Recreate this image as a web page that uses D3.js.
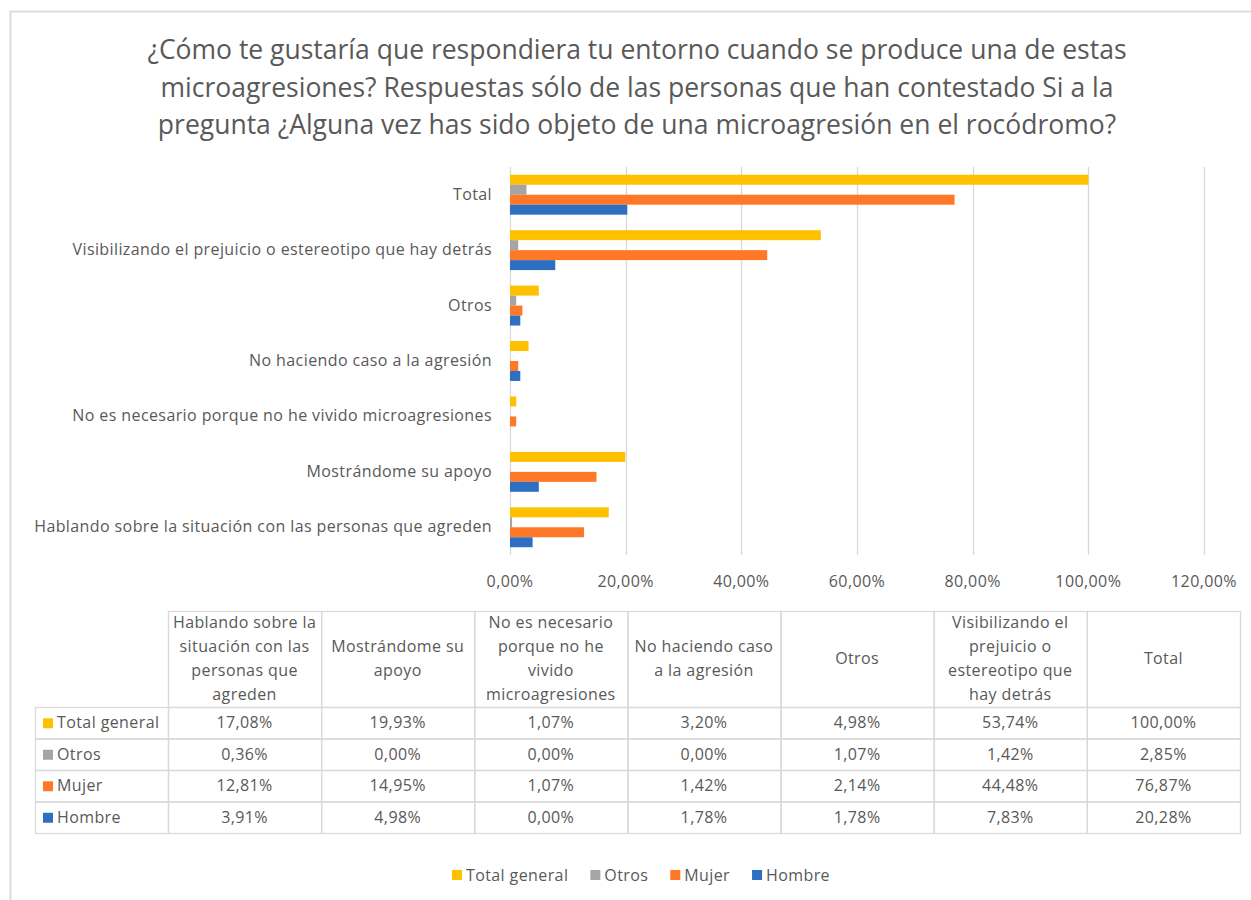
<!DOCTYPE html>
<html>
<head>
<meta charset="utf-8">
<script src="https://cdn.jsdelivr.net/npm/d3@7"></script>
<style>
  body { margin: 0; background: #fff; }
  svg { display: block; font-family: "Open Sans", sans-serif; }
  .lbl { font-size: 16px; letter-spacing: 0.4px; }
</style>
</head>
<body>
<div id="chart"></div>
<script>
// categories in table order (left to right); the bar chart lists them bottom to top
const categories = [
  "Hablando sobre la situación con las personas que agreden",
  "Mostrándome su apoyo",
  "No es necesario porque no he vivido microagresiones",
  "No haciendo caso a la agresión",
  "Otros",
  "Visibilizando el prejuicio o estereotipo que hay detrás",
  "Total"
];
const headerLines = [
  ["Hablando sobre la", "situación con las", "personas que", "agreden"],
  ["Mostrándome su", "apoyo"],
  ["No es necesario", "porque no he", "vivido", "microagresiones"],
  ["No haciendo caso", "a la agresión"],
  ["Otros"],
  ["Visibilizando el", "prejuicio o", "estereotipo que", "hay detrás"],
  ["Total"]
];
const seriesNames = ["Total general", "Otros", "Mujer", "Hombre"];
const seriesColors = ["#FFC000", "#A5A5A5", "#FF7828", "#2E6FC2"];
const totalGeneral = [17.08, 19.93, 1.07, 3.20, 4.98, 53.74, 100.00];
const otros        = [0.36, 0.00, 0.00, 0.00, 1.07, 1.42, 2.85];
const mujer        = [12.81, 14.95, 1.07, 1.42, 2.14, 44.48, 76.87];
const hombre       = [3.91, 4.98, 0.00, 1.78, 1.78, 7.83, 20.28];
const xTicks = [0, 20, 40, 60, 80, 100, 120];
const titleLines = [
  "¿Cómo te gustaría que respondiera tu entorno cuando se produce una de estas",
  "microagresiones? Respuestas sólo de las personas que han contestado Si a la",
  "pregunta ¿Alguna vez has sido objeto de una microagresión en el rocódromo?"
];

const series = [totalGeneral, otros, mujer, hombre];
const fmt = v => v.toFixed(2).replace(".", ",") + "%";
const textColor = "#595959";
const gridColor = "#D9D9D9";

const W = 1251, H = 900;
const svg = d3.select("#chart").append("svg").attr("width", W).attr("height", H);
svg.append("rect").attr("width", W).attr("height", H).attr("fill", "#fff");

// frame of the screenshot
svg.append("path")
  .attr("d", `M10.5,${H} V11.5 H${W}`)
  .attr("fill", "none")
  .attr("stroke", "#DDDDD8")
  .attr("stroke-width", 2);

// title
svg.append("g").selectAll("text")
  .data(titleLines)
  .enter().append("text")
  .attr("x", 637)
  .attr("y", (d, i) => 59 + i * 37.5)
  .attr("text-anchor", "middle")
  .attr("fill", textColor)
  .style("font-size", "26.5px")
  .text(d => d);

// scales
const x = d3.scaleLinear().domain([0, 120]).range([510, 1204]);
const y0 = d3.scaleBand()
  .domain(categories.slice().reverse())
  .range([167, 555])
  .paddingInner(0.28)
  .paddingOuter(0.14);
const y1 = d3.scaleBand()
  .domain(seriesNames)
  .range([0, y0.bandwidth()]);

// grid
svg.append("g").selectAll("line")
  .data(xTicks)
  .enter().append("line")
  .attr("x1", d => Math.round(x(d)) + 0.5)
  .attr("x2", d => Math.round(x(d)) + 0.5)
  .attr("y1", 167)
  .attr("y2", 555)
  .attr("stroke", gridColor)
  .attr("stroke-width", 1.3);

// tick labels
svg.append("g").selectAll("text")
  .data(xTicks)
  .enter().append("text")
  .attr("class", "lbl")
  .attr("x", d => x(d))
  .attr("y", 587)
  .attr("text-anchor", "middle")
  .attr("fill", textColor)
  .text(d => fmt(d));

// bars
const groups = svg.append("g").selectAll("g")
  .data(categories)
  .enter().append("g")
  .attr("transform", d => `translate(0,${y0(d)})`);

groups.selectAll("rect")
  .data((c, ci) => seriesNames.map((s, si) => ({ s, si, v: series[si][ci] })))
  .enter().append("rect")
  .attr("x", x(0))
  .attr("y", d => y1(d.s))
  .attr("width", d => x(d.v) - x(0))
  .attr("height", y1.bandwidth())
  .attr("fill", d => seriesColors[d.si]);

// category labels
svg.append("g").selectAll("text")
  .data(categories)
  .enter().append("text")
  .attr("class", "lbl")
  .attr("x", 492)
  .attr("y", d => y0(d) + y0.bandwidth() / 2 + 5)
  .attr("text-anchor", "end")
  .attr("fill", textColor)
  .text(d => d);

// data table
const tLeft = 35, tLabelRight = 168, tRight = 1240;
const colW = (tRight - tLabelRight) / categories.length;
const hTop = 611, hBottom = 707, rowH = (833 - hBottom) / series.length;
const table = svg.append("g");

// header cells
categories.forEach((c, i) => {
  const cx = tLabelRight + i * colW;
  table.append("rect")
    .attr("x", cx + 0.5).attr("y", hTop + 0.5)
    .attr("width", colW).attr("height", hBottom - hTop)
    .attr("fill", "none").attr("stroke", gridColor).attr("stroke-width", 1.3);
  const lines = headerLines[i];
  const mid = (hTop + hBottom) / 2;
  table.append("g").selectAll("text")
    .data(lines)
    .enter().append("text")
    .attr("class", "lbl")
    .attr("x", cx + colW / 2)
    .attr("y", (d, k) => mid + (k - (lines.length - 1) / 2) * 24 + 5)
    .attr("text-anchor", "middle")
    .attr("fill", textColor)
    .text(d => d);
});

// body rows
seriesNames.forEach((s, si) => {
  const ry = hBottom + si * rowH;
  table.append("rect")
    .attr("x", tLeft + 0.5).attr("y", ry + 0.5)
    .attr("width", tLabelRight - tLeft).attr("height", rowH)
    .attr("fill", "none").attr("stroke", gridColor).attr("stroke-width", 1.3);
  table.append("rect")
    .attr("x", 43).attr("y", ry + rowH / 2 - 4.5)
    .attr("width", 10).attr("height", 10)
    .attr("fill", seriesColors[si]);
  table.append("text")
    .attr("class", "lbl")
    .attr("x", 57).attr("y", ry + rowH / 2 + 5.5)
    .attr("fill", textColor)
    .text(s);
  categories.forEach((c, ci) => {
    const cx = tLabelRight + ci * colW;
    table.append("rect")
      .attr("x", cx + 0.5).attr("y", ry + 0.5)
      .attr("width", colW).attr("height", rowH)
      .attr("fill", "none").attr("stroke", gridColor).attr("stroke-width", 1.3);
    table.append("text")
      .attr("class", "lbl")
      .attr("x", cx + colW / 2).attr("y", ry + rowH / 2 + 5.5)
      .attr("text-anchor", "middle")
      .attr("fill", textColor)
      .text(fmt(series[si][ci]));
  });
});

// legend
const legend = svg.append("g");
let lx = 0;
seriesNames.forEach((s, i) => {
  const g = legend.append("g");
  g.append("rect").attr("x", 0).attr("y", -5).attr("width", 10).attr("height", 10)
    .attr("fill", seriesColors[i]);
  const t = g.append("text").attr("class", "lbl").attr("x", 14).attr("y", 5.5)
    .attr("fill", textColor).text(s);
  const w = 14 + t.node().getComputedTextLength();
  g.attr("transform", `translate(${lx},0)`);
  lx += w + 22;
});
const legendW = lx - 22;
legend.attr("transform", `translate(${641 - legendW / 2},875)`);
</script>
</body>
</html>
